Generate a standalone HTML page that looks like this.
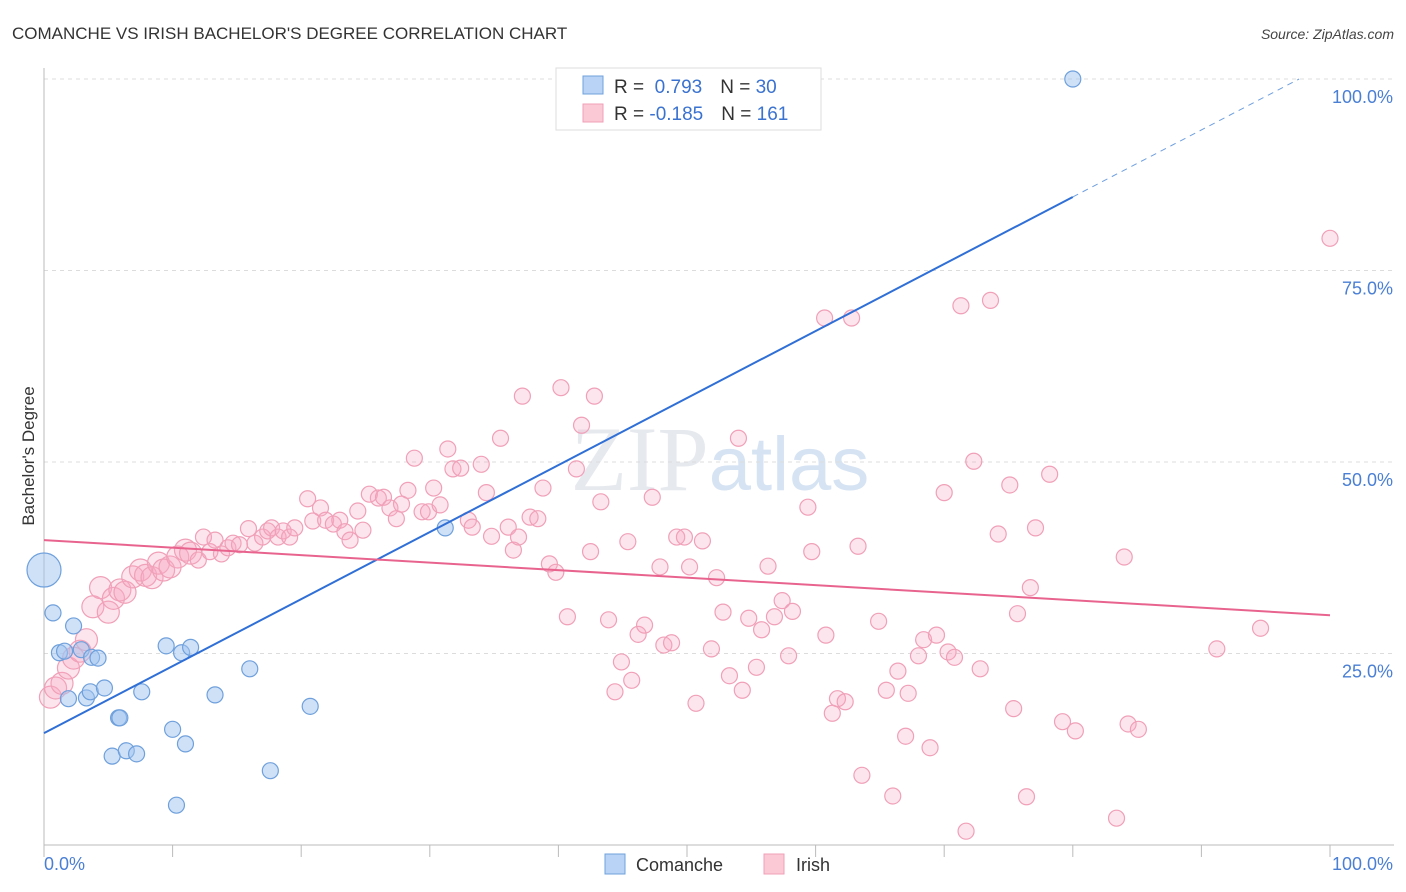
<!DOCTYPE html>
<html><head><meta charset="utf-8">
<style>
body{margin:0;background:#fff;font-family:"Liberation Sans",sans-serif;}
svg{display:block}
</style></head>
<body>
<svg id="chart" width="1406" height="892" xmlns="http://www.w3.org/2000/svg" font-family="Liberation Sans, sans-serif">
<text x="12" y="39" font-size="17" fill="#333">COMANCHE VS IRISH BACHELOR'S DEGREE CORRELATION CHART</text>
<text x="1394" y="39" font-size="14" fill="#444" text-anchor="end" font-style="italic">Source: ZipAtlas.com</text>
<text x="720" y="490" font-size="92" fill="#e6e9ee" text-anchor="middle"><tspan font-family="Liberation Serif, serif">ZIP</tspan><tspan fill="#d6e3f3" font-size="76">atlas</tspan></text>
<g id="grid"></g>
<g id="axes"></g>
<g id="marks"></g>
<text transform="translate(34,456) rotate(-90)" font-size="17" fill="#333" text-anchor="middle">Bachelor's Degree</text>
<g>
<rect x="556" y="68" width="265" height="62" fill="#fff" stroke="#ddd"/>
<rect x="583" y="76" width="20" height="18" fill="#b8d3f5" stroke="#6fa0dc"/>
<rect x="583" y="104" width="20" height="18" fill="#fbc8d6" stroke="#f0a0b8"/>
<text x="614" y="93" font-size="19" fill="#333">R = <tspan fill="#3a72d0">&#160;0.793</tspan><tspan dx="18">N = </tspan><tspan fill="#3a72d0">30</tspan></text>
<text x="614" y="120" font-size="19" fill="#333">R = <tspan fill="#3a72d0">-0.185</tspan><tspan dx="18">N = </tspan><tspan fill="#3a72d0">161</tspan></text>
</g>
<g>
<rect x="605" y="854" width="20" height="20" fill="#b8d3f5" stroke="#6fa0dc"/>
<text x="636" y="871" font-size="18" fill="#333">Comanche</text>
<rect x="764" y="854" width="20" height="20" fill="#fbc8d6" stroke="#f0a0b8"/>
<text x="796" y="871" font-size="18" fill="#333">Irish</text>
</g>
</svg>
<script>
const yTicks=[25,50,75,100];
const yTickLabels=["25.0%","50.0%","75.0%","100.0%"];
const xTicks=[0,10,20,30,40,50,60,70,80,90,100];
const comancheX=[0,0.7,1.2,1.6,2.3,2.9,3.7,4.2,1.9,3.3,3.6,4.7,7.6,5.8,5.9,5.3,6.4,7.2,9.5,10.7,11.4,10.0,11.0,13.3,16.0,17.6,20.7,10.3,31.2,80.0];
const comancheY=[35.9,30.3,25.1,25.3,28.6,25.5,24.5,24.4,19.1,19.2,20.0,20.5,20.0,16.6,16.6,11.6,12.3,11.9,26.0,25.1,25.8,15.1,13.2,19.6,23.0,9.7,18.1,5.2,41.4,100];
const irishX=[0.5,0.9,1.4,1.9,2.3,2.8,3.3,3.8,4.4,5.0,5.4,5.9,6.3,6.9,7.5,7.9,8.4,8.9,9.3,9.8,10.4,11.0,11.4,12.0,12.4,12.9,13.3,13.8,14.3,14.7,15.2,15.9,16.4,17.0,17.4,17.7,18.2,18.6,19.1,19.5,20.5,20.9,21.5,21.9,22.5,23.0,23.4,23.8,24.4,24.8,25.3,26.0,26.4,26.9,27.4,27.8,28.3,28.8,29.4,29.9,30.3,30.8,31.4,31.8,32.4,33.0,33.3,34.0,34.4,34.8,35.5,36.1,36.5,36.9,37.2,37.8,38.4,38.8,39.3,39.8,40.2,40.7,41.4,41.8,42.5,42.8,43.3,43.9,44.4,44.9,45.4,45.7,46.2,46.7,47.3,47.9,48.2,48.8,49.2,49.8,50.2,50.7,51.2,51.9,52.3,52.8,53.3,54.0,54.3,54.8,55.4,55.8,56.3,56.8,57.4,57.9,58.2,59.4,59.7,60.7,60.8,61.3,61.7,62.3,62.8,63.3,63.6,64.9,65.5,66.0,66.4,67.0,67.2,68.0,68.4,68.9,69.4,70.0,70.3,70.8,71.3,71.7,72.3,72.8,73.6,74.2,75.1,75.4,75.7,76.4,76.7,77.1,78.2,79.2,80.2,83.4,84.0,84.3,85.1,91.2,94.6,100];
const irishY=[19.3,20.5,21.1,23.1,24.4,25.3,26.8,31.1,33.6,30.4,32.2,33.3,33.0,35.0,35.9,35.2,34.9,36.8,35.9,36.3,37.6,38.5,38.1,37.2,40.2,38.3,39.8,38.0,38.8,39.4,39.2,41.3,39.4,40.2,41.0,41.4,40.2,41.0,40.2,41.4,45.2,42.3,44.0,42.4,41.9,42.4,40.9,39.8,43.6,41.1,45.8,45.3,45.4,44.0,42.6,44.5,46.3,50.5,43.5,43.5,46.6,44.4,51.7,49.1,49.2,42.4,41.5,49.7,46.0,40.3,53.1,41.5,38.5,40.2,58.6,42.8,42.6,46.6,36.7,35.6,59.7,29.8,49.1,54.8,38.3,58.6,44.8,29.4,20.0,23.9,39.6,21.5,27.5,28.7,45.4,36.3,26.1,26.4,40.2,40.2,36.3,18.5,39.7,25.6,34.9,30.4,22.1,53.1,20.2,29.6,23.2,28.1,36.4,29.8,31.9,24.7,30.5,44.1,38.3,68.8,27.4,17.2,19.1,18.7,68.8,39.0,9.1,29.2,20.2,6.4,22.7,14.2,19.8,24.7,26.8,12.7,27.4,46.0,25.2,24.5,70.4,1.8,50.1,23.0,71.1,40.6,47.0,17.8,30.2,6.3,33.6,41.4,48.4,16.1,14.9,3.5,37.6,15.8,15.1,25.6,28.3,79.2];
const comancheTrend=[14.6,84.6,80];   // y at x=0, y at x=80 (solid end)
const irishTrend=[39.8,30.0];          // y at x=0, y at x=100

const X0=44,X1=1330,Y0=845,Y100=79;
const sx=v=>X0+(X1-X0)*v/100;
const sy=v=>Y0-(Y0-Y100)*v/100;
const NS="http://www.w3.org/2000/svg";
function mk(tag,attrs,parent){const e=document.createElementNS(NS,tag);for(const k in attrs)e.setAttribute(k,attrs[k]);parent.appendChild(e);return e;}
const grid=document.getElementById('grid'),axes=document.getElementById('axes'),marks=document.getElementById('marks');
yTicks.forEach((t,i)=>{
  const g=mk('line',{x1:X0,x2:1394,y1:sy(t),y2:sy(t),stroke:'#dcdcdc','stroke-dasharray':'4,4'},grid);
  
  
  const l=mk('text',{x:1393,y:sy(t)+24,'font-size':18,fill:'#4a7fd4','text-anchor':'end'},axes);
  l.textContent=yTickLabels[i];
  
  
});
const ax=mk('line',{x1:X0,x2:X0,y1:68,y2:Y0,stroke:'#bbb'},axes);


const bx=mk('line',{x1:X0,x2:1394,y1:Y0,y2:Y0,stroke:'#bbb'},axes);


xTicks.forEach(t=>{
  const k=mk('line',{x1:sx(t),x2:sx(t),y1:Y0,y2:Y0+12,stroke:'#bbb'},axes);
  
  
});
const xl=mk('text',{x:X0,y:870,'font-size':18,fill:'#4a7fd4'},axes);xl.textContent='0.0%';


const xr=mk('text',{x:1393,y:870,'font-size':18,fill:'#4a7fd4','text-anchor':'end'},axes);xr.textContent='100.0%';



irishX.forEach((x,i)=>{
  const c=mk('circle',{cx:sx(x),cy:sy(irishY[i]),r:x<12?11:8,fill:'rgba(248,170,195,0.3)',stroke:'#f0a0b8','stroke-width':1.2},marks);
  
  
});
comancheX.forEach((x,i)=>{
  const c=mk('circle',{cx:sx(x),cy:sy(comancheY[i]),r:i===0?17:8,fill:'rgba(160,195,240,0.5)',stroke:'#6fa0dc','stroke-width':1.2},marks);
  
  
});
const slope=(comancheTrend[1]-comancheTrend[0])/comancheTrend[2];
const bl=mk('line',{x1:sx(0),y1:sy(comancheTrend[0]),x2:sx(comancheTrend[2]),y2:sy(comancheTrend[1]),stroke:'#2f6fd6','stroke-width':2},marks);


const xe=(100-comancheTrend[0])/slope;
const bd=mk('line',{x1:sx(comancheTrend[2]),y1:sy(comancheTrend[1]),x2:sx(xe),y2:sy(100),stroke:'#6f9fe0','stroke-width':1,'stroke-dasharray':'6,5'},marks);


const pl=mk('line',{x1:sx(0),y1:sy(irishTrend[0]),x2:sx(100),y2:sy(irishTrend[1]),stroke:'#e8648e','stroke-width':2},marks);


</script>
</body></html>
